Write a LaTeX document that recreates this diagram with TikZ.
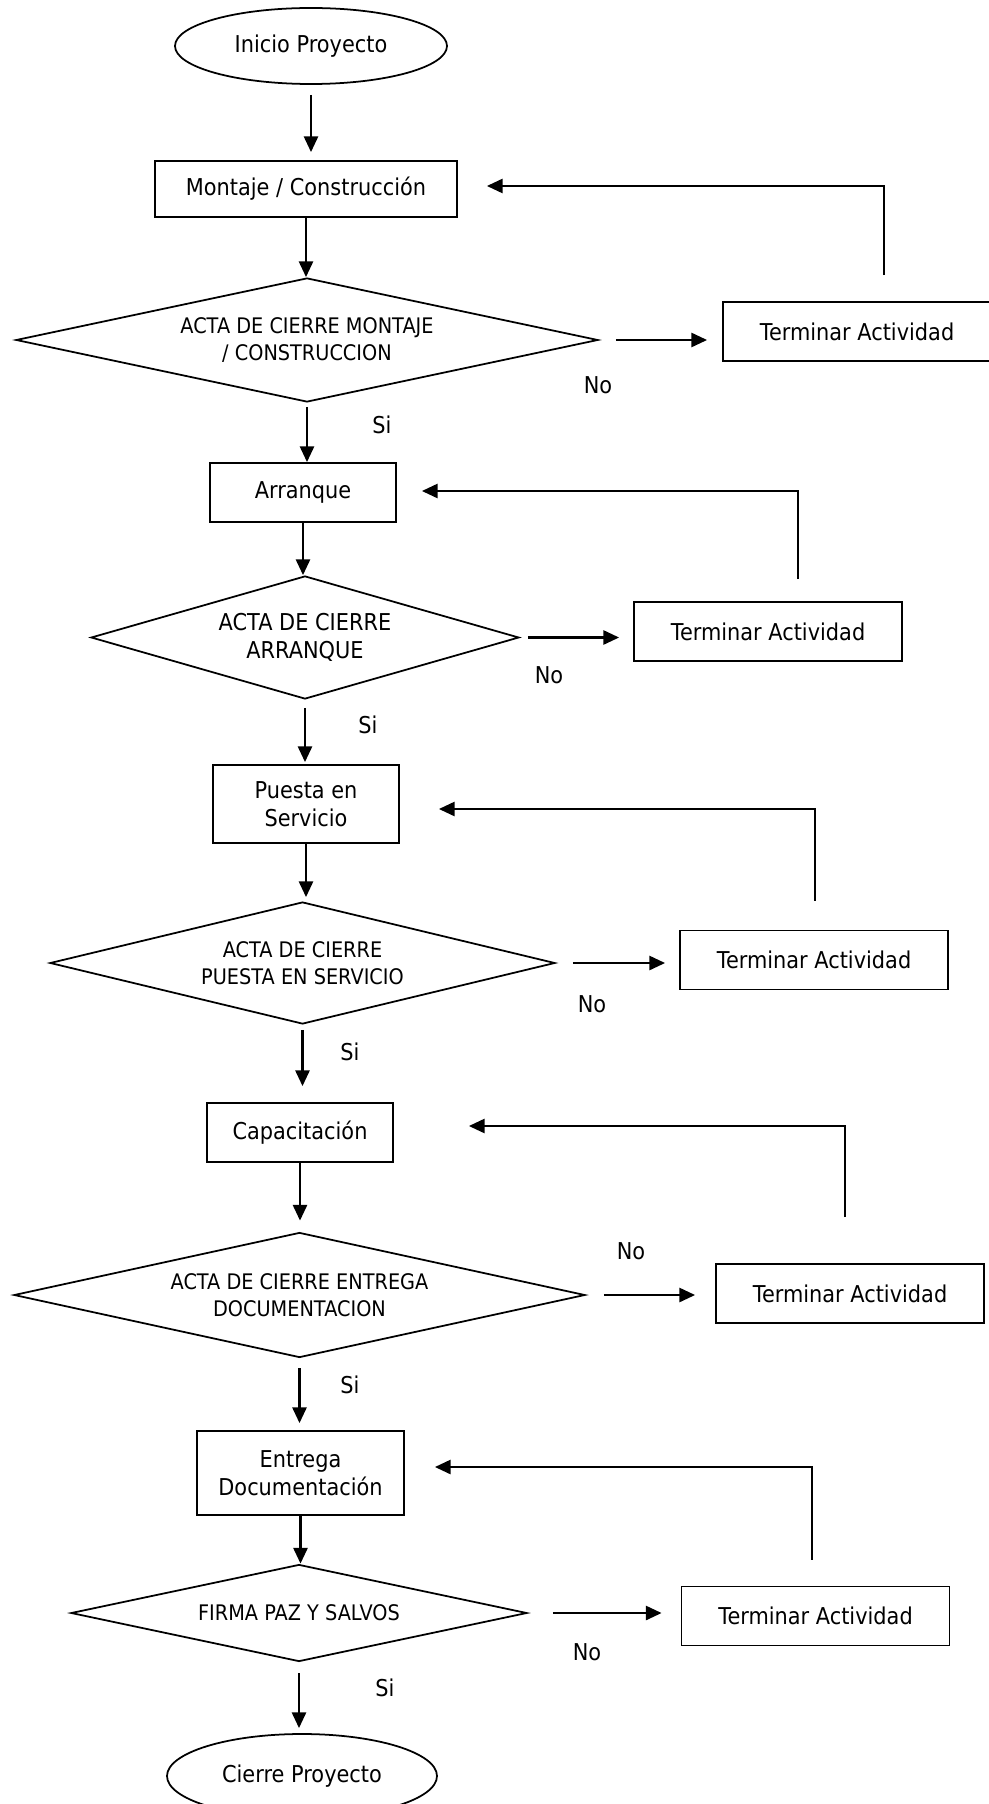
\documentclass[tikz,border=0pt]{standalone}
\usepackage{fontspec}
\setmainfont[FakeStretch=0.9]{DejaVu Sans}
\usepackage{tikz}
\usetikzlibrary{shapes.geometric,arrows.meta}
\newlength{\px}
\setlength{\px}{0.02cm}
\tikzset{
    txt/.style={font=\fontsize{13.2}{15.8}\selectfont},
    small/.style={font=\fontsize{12.2}{15.4}\selectfont},
    proc/.style={draw, rectangle, line width=1pt, inner sep=0pt, align=center, txt},
    fin/.style={proc, minimum width=268\px, minimum height=59\px},
    term/.style={draw, ellipse, line width=1pt, inner sep=0pt, txt},
    decis/.style={draw, diamond, aspect=4.5, line width=1pt, inner sep=0pt, align=center, small},
    flow/.style={-{Triangle[length=9pt,width=8pt]}, line width=1.5pt},
}
\begin{document}
\begin{tikzpicture}[x=0.02cm, y=-0.02cm]
            \useasboundingbox (0,0) rectangle (989,1804);
            \node[term, minimum width=272\px, minimum height=76\px] at (311,46) (inicio) {Inicio Proyecto};
            \node[proc, minimum width=302\px, minimum height=56\px] at (306,189) (mont) {Montaje / Construcción};
            \node[decis, minimum width=582\px, minimum height=124\px] at (307,340) (d1) {ACTA DE CIERRE MONTAJE\\/ CONSTRUCCION};
            \node[fin] at (857,331.5) (t1) {Terminar Actividad};
            \node[proc, minimum width=186\px, minimum height=59\px] at (303,492.5) (arr) {Arranque};
            \node[decis, txt, minimum width=428\px, minimum height=123\px] at (305,637.5) (d2) {ACTA DE CIERRE\\ARRANQUE};
            \node[fin] at (768,631.5) (t2) {Terminar Actividad};
            \node[proc, minimum width=186\px, minimum height=78\px] at (306,804) (pues) {Puesta en\\Servicio};
            \node[decis, minimum width=505\px, minimum height=122\px] at (302.5,963) (d3) {ACTA DE CIERRE\\PUESTA EN SERVICIO};
            \node[fin] at (814,960) (t3) {Terminar Actividad};
            \node[proc, minimum width=186\px, minimum height=59\px] at (300,1132.5) (capa) {Capacitación};
            \node[decis, minimum width=571\px, minimum height=125\px] at (299.5,1295) (d4) {ACTA DE CIERRE ENTREGA\\DOCUMENTACION};
            \node[fin] at (850,1293.5) (t4) {Terminar Actividad};
            \node[proc, minimum width=207\px, minimum height=84\px] at (300.5,1473) (entr) {Entrega\\Documentación};
            \node[decis, minimum width=456\px, minimum height=97\px] at (299,1613) (d5) {FIRMA PAZ Y SALVOS};
            \node[fin] at (815.5,1616) (t5) {Terminar Actividad};
            \node[term, minimum width=270\px, minimum height=84\px] at (302,1776) (cierre) {Cierre Proyecto};

            \node[txt] at (598,385) (no1) {No};
            \node[txt] at (382,425) (si1) {Si};
            \node[txt] at (549,675) (no2) {No};
            \node[txt] at (368,725) (si2) {Si};
            \node[txt] at (592,1004) (no3) {No};
            \node[txt] at (350,1052) (si3) {Si};
            \node[txt] at (631,1251) (no4) {No};
            \node[txt] at (350,1385) (si4) {Si};
            \node[txt] at (587,1652) (no5) {No};
            \node[txt] at (385,1688) (si5) {Si};

            \draw[flow, shorten <=10\px, shorten >=8\px] (inicio.south) -- (inicio.south |- mont.north);
            \draw[flow] (mont.south) -- (mont.south |- d1.north);
            \draw[flow, shorten <=4\px] (d1.south) -- (d1.south |- arr.north);
            \draw[flow] (arr.south) -- (arr.south |- d2.north);
            \draw[flow, shorten <=8\px, shorten >=2\px] (d2.south) -- (d2.south |- pues.north);
            \draw[flow, shorten >=4\px] (pues.south) -- (pues.south |- d3.north);
            \draw[flow, shorten <=5\px, shorten >=16\px] (d3.south) -- (d3.south |- capa.north);
            \draw[flow, shorten >=11\px] (capa.south) -- (capa.south |- d4.north);
            \draw[flow, shorten <=10\px, shorten >=7\px] (d4.south) -- (d4.south |- entr.north);
            \draw[flow] (entr.south) -- (entr.south |- d5.north);
            \draw[flow, shorten <=11\px, shorten >=5\px] (d5.south) -- (d5.south |- cierre.north);

            \draw[flow, shorten <=17\px, shorten >=15\px] (d1.east) -- (d1.east -| t1.west);
            \draw[flow, shorten <=8\px, shorten >=14\px] (d2.east) -- (d2.east -| t2.west);
            \draw[flow, shorten <=17\px, shorten >=14\px] (d3.east) -- (d3.east -| t3.west);
            \draw[flow, shorten <=18\px, shorten >=20\px] (d4.east) -- (d4.east -| t4.west);
            \draw[flow, shorten <=25\px, shorten >=19\px] (d5.east) -- (d5.east -| t5.west);

            \draw[flow, shorten >=29\px] ([xshift=27\px,yshift=26\px]t1.north) |- ([yshift=3\px]mont.east);
            \draw[flow, shorten >=25\px] ([xshift=30\px,yshift=22\px]t2.north) |- ([yshift=1.5\px]arr.east);
            \draw[flow, shorten >=39\px] ([xshift=1\px,yshift=29\px]t3.north) |- ([yshift=-5\px]pues.east);
            \draw[flow, shorten >=75\px] ([xshift=-5\px,yshift=46\px]t4.north) |- ([yshift=6.5\px]capa.east);
            \draw[flow, shorten >=30\px] ([xshift=-3.5\px,yshift=26\px]t5.north) |- ([yshift=6\px]entr.east);
        \end{tikzpicture}
\end{document}
